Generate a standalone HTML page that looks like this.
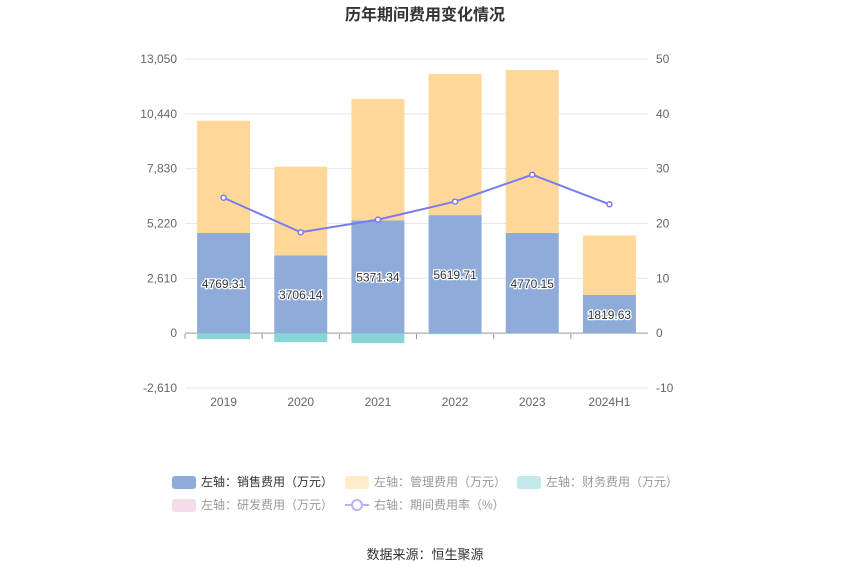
<!DOCTYPE html>
<html><head><meta charset="utf-8">
<style>
body{margin:0;background:#fff;font-family:"Liberation Sans","Noto Sans CJK SC",sans-serif;}
svg{display:block}
</style></head>
<body>
<svg id="c" width="850" height="575"></svg>
<script>
const categories=["2019","2020","2021","2022","2023","2024H1"];
const salesExp=[4769.31,3706.14,5371.34,5619.71,4770.15,1819.63];
const mgmtExp=[5340,4219,5781,6718,7758,2831];
const finExp=[-285,-427,-475,-50,-10,-5];
const rdExp=[0,0,0,0,0,0];
const rateVals=[24.7,18.4,20.7,24.0,28.9,23.5];
const leftTicks=[-2610,0,2610,5220,7830,10440,13050];
const rightTicks=[-10,0,10,20,30,40,50];

const NS="http://www.w3.org/2000/svg";
const svg=document.getElementById('c');
function el(t,a,txt){const e=document.createElementNS(NS,t);for(const k in a)e.setAttribute(k,a[k]);if(txt!==undefined)e.textContent=txt;svg.appendChild(e);return e;}
const X0=185,X1=648,YT=59,YB=388;
const yL=v=>YB-(v+2610)/(15660)*(YB-YT);
const yR=v=>YB-(v+10)/60*(YB-YT);
const band=(X1-X0)/categories.length;
const xC=i=>X0+band*(i+0.5);
const bw=53;

let t=el('text',{x:425,y:20,'text-anchor':'middle','font-size':16,'font-weight':'bold',fill:'#333'},'历年期间费用变化情况');


leftTicks.forEach((v,i)=>{
  const y=yL(v);
  const g=el('line',{x1:X0,x2:X1,y1:y,y2:y,stroke:v===0?'#999':'#e6e6e6','stroke-width':1});
  
  const a=el('text',{x:177,y:y+4,'text-anchor':'end','font-size':12,fill:'#666'},v.toLocaleString('en-US'));
  
  const b=el('text',{x:656,y:yR(rightTicks[i])+4,'text-anchor':'start','font-size':12,fill:'#666'},rightTicks[i]);
  
});
categories.forEach((c,i)=>{
  const tk=el('line',{x1:X0+band*i,x2:X0+band*i,y1:334,y2:339,stroke:'#999'});
  
  const l=el('text',{x:xC(i),y:406,'text-anchor':'middle','font-size':12,fill:'#666'},c);
  
});
categories.forEach((c,i)=>{
  const x=xC(i)-bw/2;
  let r=el('rect',{x:x,y:yL(salesExp[i]),width:bw,height:yL(0)-yL(salesExp[i]),fill:'#8eabd9'});
  
  const top=salesExp[i]+mgmtExp[i];
  r=el('rect',{x:x,y:yL(top),width:bw,height:yL(salesExp[i])-yL(top),fill:'#ffd899'});
  
  r=el('rect',{x:x,y:yL(0),width:bw,height:yL(finExp[i])-yL(0),fill:'#88d5d8'});
  
  const lb=el('text',{x:xC(i),y:(yL(0)+yL(salesExp[i]))/2+5,'text-anchor':'middle','font-size':12,fill:'#333',stroke:'#fff','stroke-width':2.5,'paint-order':'stroke'},salesExp[i].toFixed(2));
  
});
const pts=rateVals.map((v,i)=>xC(i)+','+yR(v)).join(' ');
const pl=el('polyline',{points:pts,fill:'none',stroke:'#7b7bf0','stroke-width':2});

rateVals.forEach((v,i)=>{
  const p=el('circle',{cx:xC(i),cy:yR(v),r:2.5,fill:'#fff',stroke:'#7b7bf0','stroke-width':1.5});
  
});
const leg=[[172,482,'左轴：销售费用（万元）','#8eabd9','#333','rect'],[345,482,'左轴：管理费用（万元）','#ffeccc','#999','rect'],[517,482,'左轴：财务费用（万元）','#c3e9ea','#999','rect'],[172,505,'左轴：研发费用（万元）','#f5dcea','#999','rect'],[345,505,'右轴：期间费用率（%）','#b3b3f7','#999','line']];
leg.forEach(d=>{
  if(d[5]==='rect'){const s=el('rect',{x:d[0],y:d[1]-6,width:24,height:13,rx:3,fill:d[3]});}
  else{const s=el('line',{x1:d[0],x2:d[0]+24,y1:d[1],y2:d[1],stroke:d[3],'stroke-width':2});
    const c=el('circle',{cx:d[0]+12,cy:d[1],r:5,fill:'#fff',stroke:d[3],'stroke-width':2});}
  const tx=el('text',{x:d[0]+29,y:d[1]+4,'font-size':12,fill:d[4]},d[2]);
  
});
const src=el('text',{x:425,y:559,'text-anchor':'middle','font-size':13,fill:'#333'},'数据来源：恒生聚源');

</script>
</body></html>
